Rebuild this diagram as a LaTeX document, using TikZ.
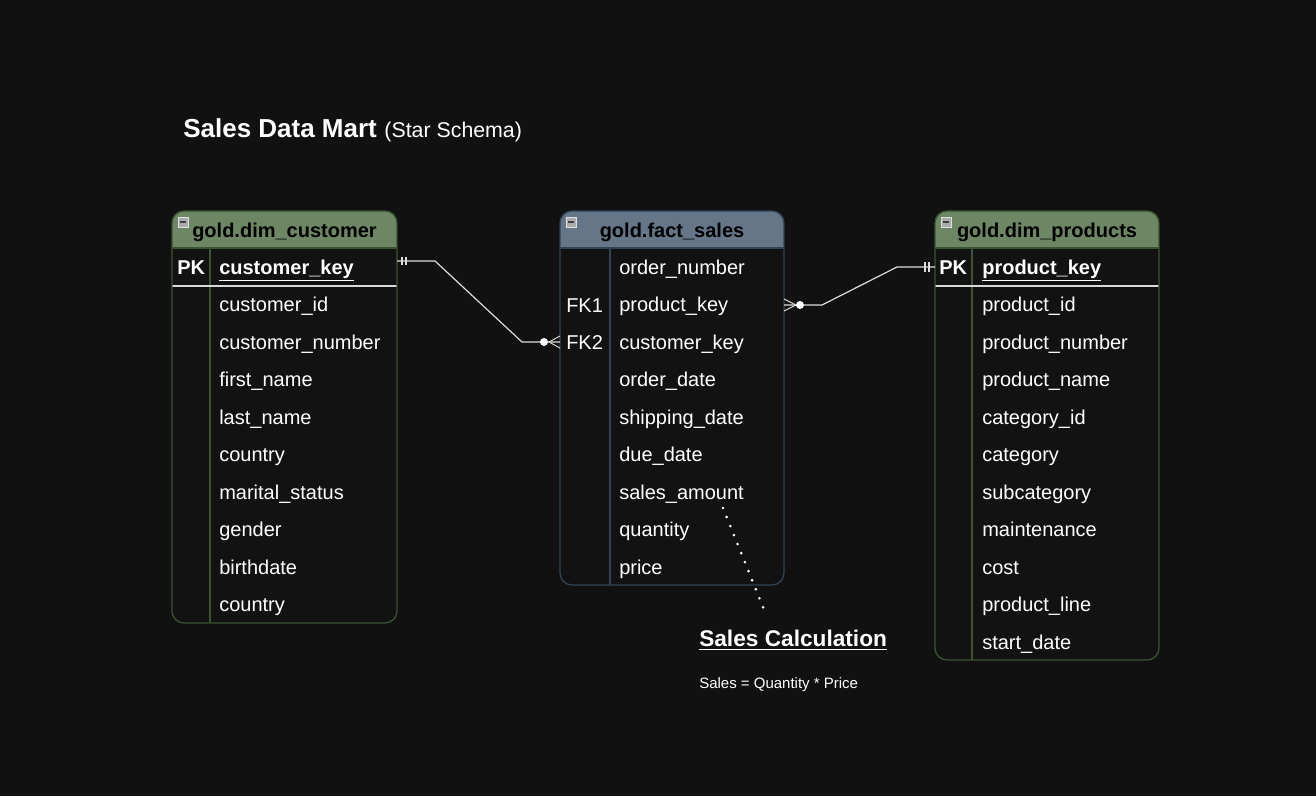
\documentclass[tikz,border=0pt]{standalone}
\usepackage{fontspec}
\setmainfont{Liberation Sans}
\usepackage{xcolor}
\usepackage{tikz}
\usetikzlibrary{arrows.meta,positioning,calc}
\definecolor{bgdark}{HTML}{111111}
\definecolor{bodydark}{HTML}{121212}
\definecolor{dimgreen}{HTML}{6D8764}
\definecolor{dimstroke}{HTML}{3A5431}
\definecolor{factblue}{HTML}{647687}
\definecolor{factstroke}{HTML}{314354}
\definecolor{linkgray}{HTML}{DDDDDD}

\begin{document}
\begin{tikzpicture}[
  x=0.75pt, y=-0.75pt,
  every node/.style={font=\fontsize{15}{18}\selectfont, text=white},
  row/.style={anchor=west, inner sep=0pt, text height=11pt, text depth=3pt, yshift=-1.5pt},
  keycol/.style={row, font=\fontsize{15}{18}\selectfont},
  head/.style={font=\bfseries\fontsize{15}{18}\selectfont, text=black, inner sep=0pt, yshift=-1.5pt},
  minusbox/.style={draw=gray!25, fill=gray!65, minimum size=7.5pt, inner sep=0pt,
                   path picture={\draw[black!75, line width=1pt]
                     ([xshift=1.5pt]path picture bounding box.west) --
                     ([xshift=-1.5pt]path picture bounding box.east);}},
  rel/.style={draw=linkgray, line width=0.9pt},
  dot/.style={fill=white, circle, inner sep=0pt, minimum size=6pt},
]

%% Canvas
\fill[bgdark] (0,0) rectangle (1316,796);
\useasboundingbox (0,0) rectangle (1316,796);

%% Title
\node[anchor=west, inner sep=0pt] (title) at (183,130)
  {{\bfseries\fontsize{19.5}{22}\selectfont Sales Data Mart}\hspace{1.5pt}
   {\fontsize{16}{19}\selectfont (Star Schema)}};

%% gold.dim_customer
\begin{scope}
  \clip[rounded corners=9pt] (172,211) rectangle (397,623);
  \fill[bodydark] (172,211) rectangle (397,623);
  \fill[dimgreen] (172,211) rectangle (397,248);
\end{scope}
\draw[dimstroke, line width=1pt] (172,248) -- (397,248);
\draw[dimstroke, line width=1pt] (210,248) -- (210,623);
\draw[white!85!black, line width=1.2pt] (172,286) -- (397,286);
\draw[dimstroke, line width=1pt, rounded corners=9pt] (172,211) rectangle (397,623);
\node[minusbox] (cust-icon) at (183,222) {};
\node[head] (cust-head) at (284.5,230) {gold.dim\_customer};
\node[keycol, font=\bfseries\fontsize{15}{18}\selectfont] (cust-pkl) at (177,267) {PK};
\node[row, font=\bfseries\fontsize{15}{18}\selectfont] (cust-pk) at (219,267) {\underline{customer\_key}};
\foreach \fld [count=\i] in {customer\_id, customer\_number, first\_name, last\_name,
    country, marital\_status, gender, birthdate, country}
  \node[row] (cust-\i) at (219,267+37.5*\i) {\fld};

%% gold.fact_sales
\begin{scope}
  \clip[rounded corners=9pt] (560,211) rectangle (784,585);
  \fill[bodydark] (560,211) rectangle (784,585);
  \fill[factblue] (560,211) rectangle (784,248);
\end{scope}
\draw[factstroke, line width=1pt] (560,248) -- (784,248);
\draw[factstroke, line width=1pt] (610,248) -- (610,585);
\draw[factstroke, line width=1pt, rounded corners=9pt] (560,211) rectangle (784,585);
\node[minusbox] (fact-icon) at (571,222) {};
\node[head] (fact-head) at (672,230) {gold.fact\_sales};
\node[keycol] (fact-fk1) at (566,305) {FK1};
\node[keycol] (fact-fk2) at (566,342) {FK2};
\foreach \fld [count=\i from 0] in {order\_number, product\_key, customer\_key, order\_date,
    shipping\_date, due\_date, sales\_amount, quantity, price}
  \node[row] (fact-\i) at (619,267+37.5*\i) {\fld};

%% gold.dim_products
\begin{scope}
  \clip[rounded corners=9pt] (935,211) rectangle (1159,660);
  \fill[bodydark] (935,211) rectangle (1159,660);
  \fill[dimgreen] (935,211) rectangle (1159,248);
\end{scope}
\draw[dimstroke, line width=1pt] (935,248) -- (1159,248);
\draw[dimstroke, line width=1pt] (972,248) -- (972,660);
\draw[white!85!black, line width=1.2pt] (935,286) -- (1159,286);
\draw[dimstroke, line width=1pt, rounded corners=9pt] (935,211) rectangle (1159,660);
\node[minusbox] (prod-icon) at (946,222) {};
\node[head] (prod-head) at (1047,230) {gold.dim\_products};
\node[keycol, font=\bfseries\fontsize{15}{18}\selectfont] (prod-pkl) at (939,267) {PK};
\node[row, font=\bfseries\fontsize{15}{18}\selectfont] (prod-pk) at (982,267) {\underline{product\_key}};
\foreach \fld [count=\i] in {product\_id, product\_number, product\_name, category\_id,
    category, subcategory, maintenance, cost, product\_line, start\_date}
  \node[row] (prod-\i) at (982,267+37.5*\i) {\fld};

%% Relationship ends
\coordinate (cust-out) at (397,261);
\coordinate (fact-in)  at (560,342);
\coordinate (fact-out) at (784,305);
\coordinate (prod-in)  at (935,267);

%% customer 1 -- many fact
\draw[rel] (cust-out) -- ++(38,0) -- (522,342) -- (fact-in);
\draw[rel] ($(cust-out)+(5,-4)$) -- ++(0,8);
\draw[rel] ($(cust-out)+(9,-4)$) -- ++(0,8);
\node[dot] (cust-dot) at (544,342) {};
\draw[rel, line width=0.7pt] (549,342) -- ($(fact-in)+(0,-6)$);
\draw[rel, line width=0.7pt] (549,342) -- ($(fact-in)+(0,6)$);

%% product 1 -- many fact
\draw[rel] (fact-out) -- ++(38,0) -- (897,267) -- (prod-in);
\draw[rel] ($(prod-in)+(-10,-5)$) -- ++(0,10);
\draw[rel] ($(prod-in)+(-6,-5)$) -- ++(0,10);
\node[dot] (prod-dot) at (800,305) {};
\draw[rel, line width=0.7pt] (796,305) -- ($(fact-out)+(0,-6)$);
\draw[rel, line width=0.7pt] (796,305) -- ($(fact-out)+(0,6)$);

%% Sales calculation note
\node[anchor=west, inner sep=0pt, font=\bfseries\fontsize{17}{20}\selectfont]
  (calc) at (699,640) {\underline{Sales Calculation}};
\node[anchor=west, inner sep=0pt, font=\fontsize{11.25}{14}\selectfont]
  (calc-eq) at (699,685) {Sales = Quantity * Price};
\coordinate (calc-tip) at (765,612);
\draw[white, line width=2.2pt, line cap=round, dash pattern=on 0pt off 7.3pt]
  (723,508) -- (calc-tip);

\end{tikzpicture}
\end{document}
